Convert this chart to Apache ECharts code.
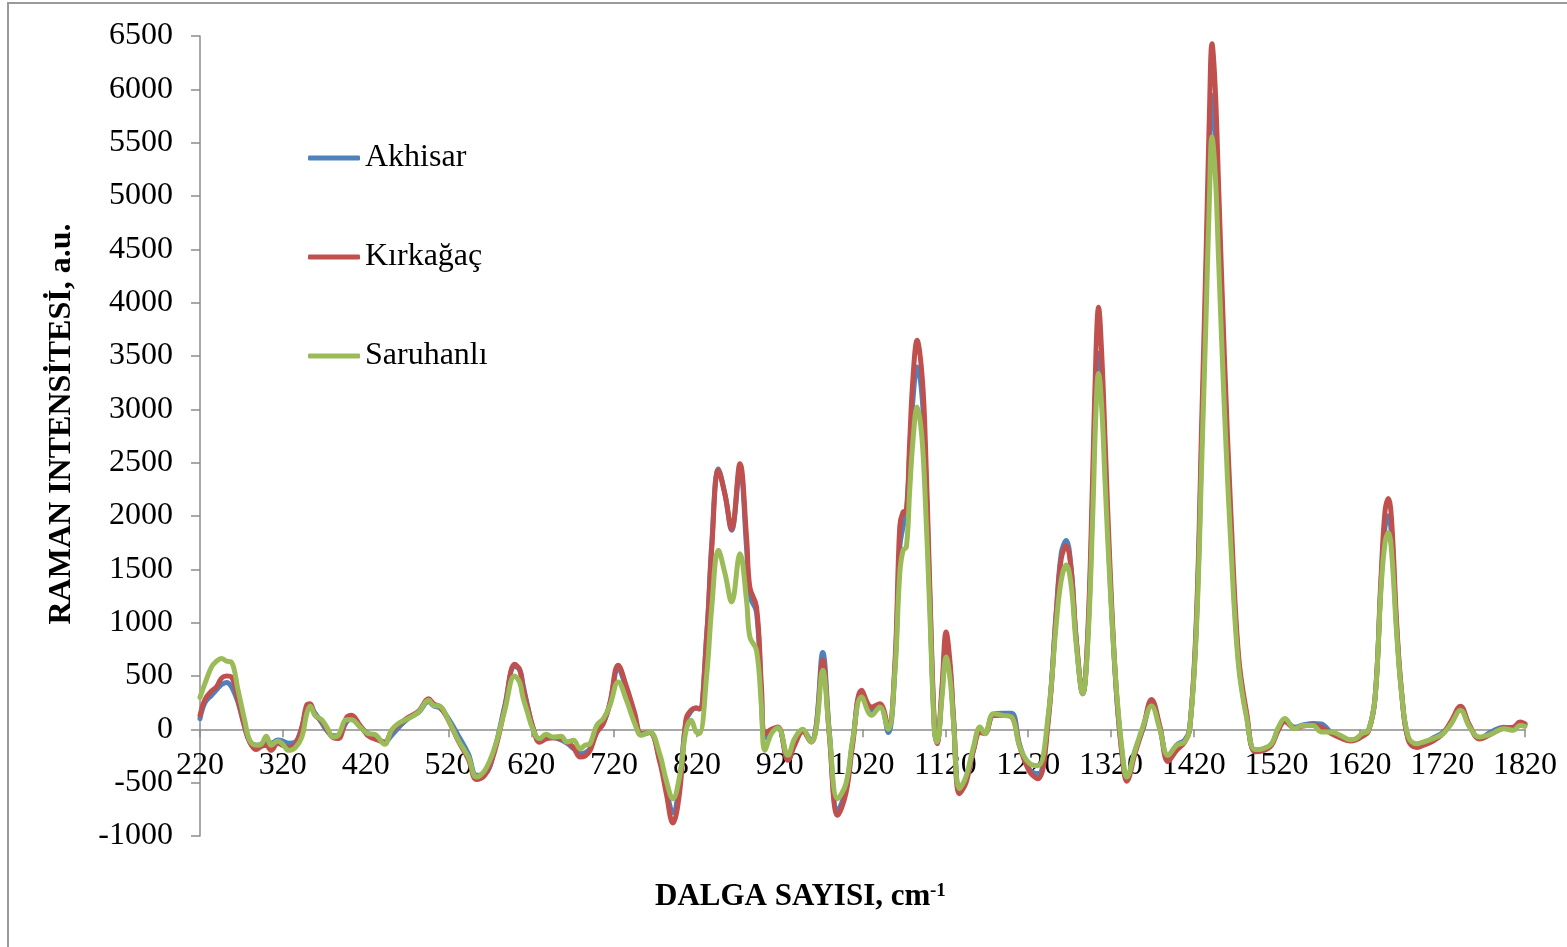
<!DOCTYPE html>
<html>
<head>
<meta charset="utf-8">
<script src="https://cdn.jsdelivr.net/npm/echarts@6/dist/echarts.min.js"></script>
<style>
html,body{margin:0;padding:0;background:#fff;}
#chart{width:1567px;height:947px;}
</style>
</head>
<body>
<div id="chart"></div>
<script>
// Wavenumber grid (cm-1)
const wavenumber = [
  220,226,234,240,246,252,258,266,274,280,
  288,294,300,306,314,320,327,335,343,349,
  353,359,367,373,381,387,397,403,413,423,
  431,443,451,459,471,484,496,502,510,520,
  532,544,554,564,576,588,600,606,610,615,
  622,630,638,646,656,663,671,679,685,691,
  699,707,715,725,735,745,753,763,775,783,
  791,799,807,813,819,823,832,838,846,854,
  862,872,880,884,892,898,902,910,918,930,
  938,948,958,964,972,980,990,1000,1008,1019,
  1031,1041,1051,1059,1065,1069,1073,1077,1081,1086,
  1091,1095,1101,1107,1110,1116,1121,1126,1130,1137,
  1145,1154,1162,1168,1178,1190,1200,1210,1222,1232,
  1244,1254,1260,1266,1272,1278,1286,1292,1298,1302,
  1305,1309,1313,1319,1327,1335,1339,1349,1359,1369,
  1379,1389,1399,1409,1415,1423,1430,1435,1439,1442,
  1446,1450,1457,1465,1474,1484,1494,1504,1514,1522,
  1530,1542,1552,1564,1574,1586,1597,1609,1616,1623,
  1631,1639,1646,1651,1655,1659,1665,1671,1679,1689,
  1697,1709,1721,1731,1742,1753,1765,1780,1794,1806,
  1814,1820
];

const akhisar = [
  100,250,320,370,420,440,400,250,20,-110,
  -150,-140,-100,-130,-100,-110,-130,-120,20,200,
  210,150,60,-10,-60,-60,70,100,30,-40,
  -70,-120,-60,10,100,160,260,220,200,100,
  -60,-230,-430,-420,-180,220,590,560,420,240,
  20,-100,-80,-80,-100,-130,-180,-230,-220,-180,
  -30,60,240,560,380,120,-50,-30,-280,-560,
  -780,-500,80,170,200,190,900,1750,2440,2200,
  1866,2440,1700,1250,1100,300,-80,-10,10,-270,
  -130,-10,-100,30,720,-30,-760,-560,-120,340,
  180,220,-30,550,1700,1900,2000,2600,3100,3397,
  3200,2700,1300,-20,-120,350,800,550,80,-560,
  -460,-190,0,-30,140,150,150,-150,-380,-420,
  80,1100,1650,1770,1500,850,334,850,2200,3300,
  3525,3200,2500,1400,300,-330,-470,-200,10,260,
  20,-280,-150,-100,0,950,2800,4200,5400,5944,
  5600,4700,3200,1850,650,120,-200,-190,-140,0,
  80,20,40,55,50,-30,-70,-100,-90,-50,
  -10,300,1350,1900,2000,1800,950,340,-90,-150,
  -140,-80,-30,60,200,30,-80,-20,20,10,
  50,40
];

const kirkagac = [
  130,280,360,400,480,500,490,272,22,-120,
  -190,-160,-150,-197,-130,-150,-170,-140,20,230,
  240,130,80,0,-80,-87,110,131,40,-60,
  -90,-120,-20,40,110,170,287,240,210,84,
  -110,-280,-470,-430,-200,200,610,560,400,230,
  20,-120,-90,-80,-90,-120,-170,-259,-250,-200,
  -30,53,250,600,400,150,-40,-30,-300,-600,
  -878,-600,100,180,200,194,900,1700,2428,2200,
  1881,2490,1800,1330,1150,400,-41,0,22,-291,
  -150,-20,-119,20,647,-60,-806,-600,-150,366,
  209,241,22,600,1900,2037,2053,2700,3300,3647,
  3400,2900,1400,0,-134,400,912,600,100,-603,
  -500,-200,-30,-40,130,131,120,-166,-400,-463,
  50,1100,1600,1720,1500,850,334,900,2400,3550,
  3957,3500,2700,1500,300,-350,-486,-230,20,280,
  30,-302,-200,-120,0,1000,3000,4500,5800,6428,
  6000,5100,3500,2000,700,150,-210,-200,-150,-10,
  70,10,30,40,20,-40,-80,-110,-100,-70,
  -20,300,1400,2050,2163,1950,1000,350,-100,-170,
  -150,-110,-40,80,216,40,-90,-40,10,20,
  69,53
];

const saruhanli = [
  300,430,585,640,665,640,630,366,84,-103,
  -150,-140,-66,-150,-109,-140,-197,-172,-72,150,
  216,131,90,22,-72,-56,90,90,22,-40,
  -47,-140,-10,53,100,162,272,225,216,84,
  -103,-259,-447,-384,-166,178,500,440,300,170,
  0,-87,-47,-72,-66,-119,-103,-181,-150,-134,
  37,100,225,444,272,53,-56,-25,-228,-478,
  -650,-447,-9,84,-25,-41,522,1147,1678,1459,
  1194,1647,1209,866,741,209,-197,-41,16,-244,
  -87,0,-119,0,553,-41,-650,-509,-103,303,
  131,209,0,522,1459,1678,1709,2240,2709,3022,
  2800,2300,1147,-41,-119,300,678,450,53,-556,
  -444,-166,22,-41,147,131,116,-166,-322,-341,
  116,991,1400,1540,1350,800,334,800,2000,3000,
  3336,3000,2300,1341,335,-302,-447,-201,34,218,
  0,-244,-151,-117,0,900,2600,3900,5000,5553,
  5200,4400,3000,1700,600,100,-190,-180,-134,17,
  101,6,37,37,-25,-25,-56,-97,-87,-41,
  -9,300,1300,1750,1844,1650,900,335,-67,-134,
  -119,-87,-41,53,178,22,-72,-41,6,-9,
  37,28
];

const seriesNames = ['Akhisar', 'Kırkağaç', 'Saruhanlı'];
const seriesColors = ['#4F81BD', '#C0504D', '#9BBB59'];
const xTicks = [220,320,420,520,620,720,820,920,1020,1120,1220,1320,1420,1520,1620,1720,1820];

const FONT = '"Liberation Serif", "Times New Roman", serif';
const GRID = { left: 200, right: 42, top: 36, bottom: 111 };
const H = 947;

function pairs(ys) { return wavenumber.map((x, i) => [x, ys[i]]); }
const allY = [akhisar, kirkagac, saruhanli];

const chart = echarts.init(document.getElementById('chart'));
chart.setOption({
  animation: false,
  backgroundColor: '#fff',
  grid: GRID,
  legend: {
    orient: 'vertical',
    left: 303,
    top: 137,
    itemWidth: 52,
    itemHeight: 5,
    itemGap: 67,
    icon: 'roundRect',
    textStyle: { fontFamily: FONT, fontSize: 32, color: '#000' },
    data: seriesNames
  },
  xAxis: {
    type: 'value',
    min: 220, max: 1820,
    position: 'bottom',
    axisLine: { onZero: false, lineStyle: { color: '#8c8c8c', width: 1.5 } },
    axisTick: { show: true, length: 8, customValues: xTicks, lineStyle: { color: '#8c8c8c', width: 1.5 } },
    axisLabel: { customValues: xTicks, fontFamily: FONT, fontSize: 32, color: '#000', margin: 20,
                 formatter: v => String(v) },
    splitLine: { show: false }
  },
  yAxis: {
    type: 'value',
    min: -1000, max: 6500, interval: 500,
    axisLine: { show: true, lineStyle: { color: '#8c8c8c', width: 1.5 } },
    axisTick: { show: true, length: 9, lineStyle: { color: '#8c8c8c', width: 1.5 } },
    axisLabel: { fontFamily: FONT, fontSize: 32, color: '#000', margin: 27,
                 formatter: v => String(v) },
    splitLine: { show: false }
  },
  series: allY.map((ys, i) => ({
    name: seriesNames[i],
    type: 'line',
    data: pairs(ys),
    smooth: 0.4,
    showSymbol: false,
    symbol: 'none',
    color: seriesColors[i],
    lineStyle: { width: 5, color: seriesColors[i], cap: 'round', join: 'round' },
    z: 2 + i
  })),
  graphic: [
    { type: 'rect', z: -10, shape: { x: 8, y: 3, width: 1700, height: 1100 },
      style: { fill: 'none', stroke: '#9a9a9a', lineWidth: 2 } },
    { type: 'text', x: 62, y: 424, rotation: Math.PI / 2,
      style: { text: 'RAMAN INTENSİTESİ, a.u.', font: 'bold 32px ' + FONT, fill: '#000',
               textAlign: 'center', textVerticalAlign: 'middle' } },
    { type: 'text', x: 655, y: 897,
      style: { text: 'DALGA SAYISI, cm', font: 'bold 31px ' + FONT, fill: '#000',
               textAlign: 'left', textVerticalAlign: 'middle' } },
    { type: 'text', x: 930, y: 882,
      style: { text: '-1', font: 'bold 19px ' + FONT, fill: '#000',
               textAlign: 'left', textVerticalAlign: 'top' } }
  ]
});

// Place the x axis on the y = 0 line, as in the original chart.
const zeroPx = chart.convertToPixel({ yAxisIndex: 0 }, 0);
const gridBottomPx = H - GRID.bottom;
chart.setOption({ xAxis: { offset: zeroPx - gridBottomPx } });
</script>
</body>
</html>
